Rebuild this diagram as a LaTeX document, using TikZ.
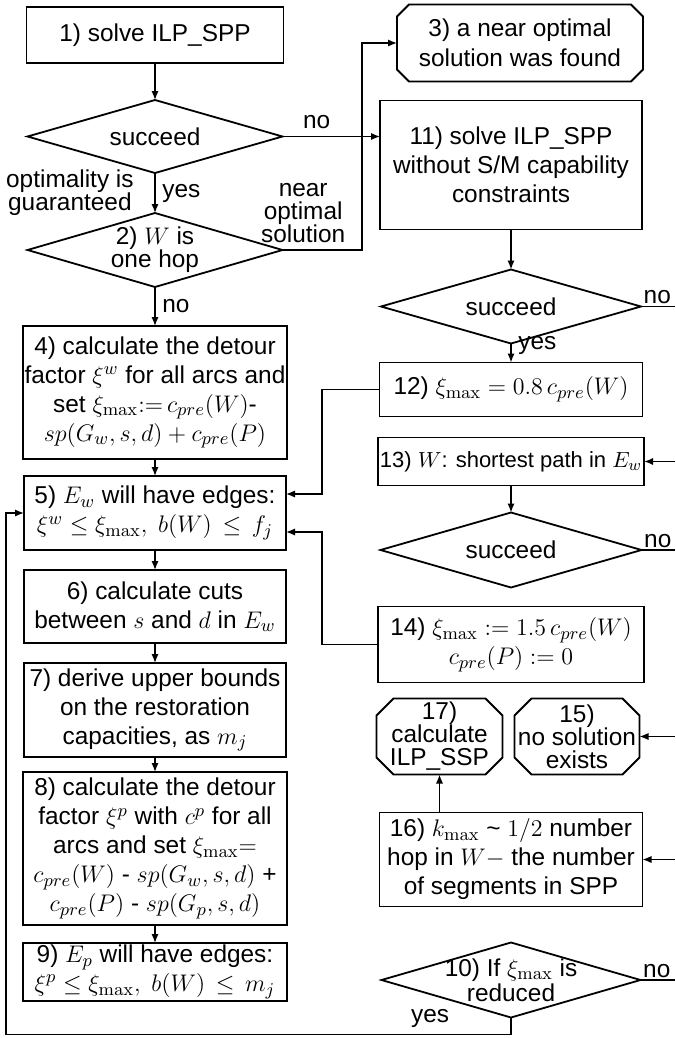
\documentclass[tikz,border=0pt]{standalone}
\usepackage[no-math]{fontspec}
\setmainfont{Liberation Sans}
\usetikzlibrary{arrows.meta,positioning,shapes.geometric}
\tikzset{box/.style={draw,line width=0.9pt,outer sep=0pt,align=center,inner sep=1pt,font=\fontsize{12.2}{14.5}\selectfont,minimum width=131pt}, term/.style={rectangle,outer sep=0pt,inner sep=0pt,align=center,font=\fontsize{12.2}{11.5}\selectfont}, decision/.style={diamond,draw,line width=0.9pt,outer sep=0pt,inner sep=0pt,minimum width=128pt,minimum height=37pt}, txt/.style={font=\fontsize{12.2}{11.5}\selectfont,align=center}, arr/.style={-{Latex[length=4.5pt,width=3.6pt]},line width=0.7pt}, ln/.style={line width=0.7pt}}
\begin{document}
\begin{tikzpicture}
\useasboundingbox (0,0) rectangle (337.5pt,-519pt);
\coordinate (rim) at (337.5pt,0);
% left column
\node[box,minimum width=128.5pt,minimum height=28pt] (solve) at (77.5pt,-17.5pt) {1) solve ILP\_SPP};
\node[decision,minimum width=127.5pt,minimum height=36.5pt,below=18.5pt of solve,label={[txt]center:succeed}] (ok1) {};
\node[decision,minimum width=127.5pt,below=20pt of ok1,label={[txt]center:2) $W$ is\\one hop}] (hop) {};
\node[box,minimum height=66.5pt,below=19.5pt of hop] (detour) {4) calculate the detour\\factor $\xi^w$ for all arcs and\\set $\xi_{\max}{:=}\,c_{pre}(W)$-\\$sp(G_w,s,d)+c_{pre}(P)$};
\node[box,minimum height=37pt,below=8.5pt of detour] (edgesw) {5) $E_w$ will have edges:\\$\xi^w\le\xi_{\max},\ b(W)\,\le\, f_j$};
\node[box,minimum height=36.5pt,below=10pt of edgesw] (cuts) {6) calculate cuts\\between $s$ and $d$ in $E_w$};
\node[box,minimum height=47pt,below=10pt of cuts] (bounds) {7) derive upper bounds\\on the restoration\\capacities, as $m_j$};
\node[box,minimum width=132pt,minimum height=76.5pt,below=7.5pt of bounds] (detourp) {8) calculate the detour\\factor $\xi^p$ with $c^p$ for all\\arcs and set $\xi_{\max}{=}$\\$c_{pre}(W)$ - $sp(G_w,s,d)$ +\\$c_{pre}(P)$ - $sp(G_p,s,d)$};
\node[box,minimum width=132pt,minimum height=27pt,below=9pt of detourp] (edgesp) {9) $E_p$ will have edges:\\$\xi^p\le\xi_{\max},\ b(W)\,\le\, m_j$};
% right column
\node[term,minimum width=123pt,minimum height=38.5pt,font=\fontsize{12.2}{15}\selectfont] (near) at (260pt,-21.5pt) {3) a near optimal\\solution was found};
\node[box,minimum height=64.5pt,below=9.5pt of near,xshift=-4.5pt] (relax) {11) solve ILP\_SPP\\without S/M capability\\constraints};
\node[decision,minimum width=130pt,below=20pt of relax,label={[txt]center:succeed}] (ok2) {};
\node[box,minimum width=131.5pt,minimum height=27pt,below=9.5pt of ok2] (xiset) {12) $\xi_{\max}=0.8\,c_{pre}(W)$};
\node[box,minimum height=24pt,below=10.5pt of xiset,font=\fontsize{11}{13}\selectfont] (path) {13) $W$: shortest path in $E_w$};
\node[decision,minimum width=130.5pt,minimum height=37.5pt,below=13.5pt of path,label={[txt]center:succeed}] (ok3) {};
\node[box,minimum width=133pt,minimum height=38pt,below=9.5pt of ok3] (xireset) {14) $\xi_{\max}:=1.5\,c_{pre}(W)$\\$c_{pre}(P):=0$};
\node[term,minimum width=62.5pt,minimum height=38pt,below=8pt of xireset,xshift=33pt] (nosol) {15)\\no solution\\exists};
\node[term,minimum width=63pt,minimum height=38pt,left=6pt of nosol] (calc) {17)\\calculate\\ILP\_SSP};
\node[box,minimum width=131.5pt,minimum height=47pt,below=65pt of xireset] (kmax) {16) $k_{\max}$ \textasciitilde{} $1/2$ number\\hop in $W-$ the number\\of segments in SPP};
\node[decision,minimum width=129.5pt,minimum height=37.5pt,below=18pt of kmax,label={[txt,font=\fontsize{12.2}{12.5}\selectfont]center:10) If $\xi_{\max}$ is\\reduced}] (reduced) {};
% chamfered outlines of the end nodes
\foreach \n/\c in {near/6pt,calc/8.5pt,nosol/8.5pt}
  \draw[line width=0.9pt] ([xshift=\c]\n.north west)--([xshift=-\c]\n.north east)--([yshift=-\c]\n.north east)--([yshift=\c]\n.south east)--([xshift=-\c]\n.south east)--([xshift=\c]\n.south west)--([yshift=\c]\n.south west)--([yshift=-\c]\n.north west)--cycle;
% connectors
\draw[arr] (solve)--(ok1);
\draw[arr] (ok1)--node[right,txt]{yes}node[left=7pt,txt]{optimality is\\guaranteed}(hop);
\draw[arr] (ok1.east)--node[above,pos=0.35,txt]{no}(ok1.east-|relax.west);
\draw[arr] (hop.east)-|node[above,pos=0.13,txt]{near\\optimal\\solution}([xshift=-17.5pt]near.west)--(near.west);
\draw[arr] (hop)--node[right,txt]{no}(detour);
\draw[arr] (detour)--(edgesw);\draw[arr] (edgesw)--(cuts);\draw[arr] (cuts)--(bounds);
\draw[arr] (bounds)--(detourp);\draw[arr] (detourp)--(edgesp);
\draw[arr] (relax)--(ok2);
\draw[ln] (ok2.east)--node[above right,pos=0,txt,inner sep=1pt]{no}(ok2.east-|rim);
\draw[arr] (ok2)--node[right,pos=0.1,txt]{yes}(xiset);
\draw[arr] (xiset.west)-|([xshift=18pt,yshift=9.5pt]edgesw.east)--([yshift=9.5pt]edgesw.east);
\draw[arr] (path.east-|rim)--(path.east);
\draw[arr] (path)--(ok3);
\draw[ln] (ok3.east)--node[above right,pos=0,txt,inner sep=1pt]{no}(ok3.east-|rim);
\draw[arr] (xireset.west)-|([xshift=18pt,yshift=-9.5pt]edgesw.east)--([yshift=-9.5pt]edgesw.east);
\draw[arr] (nosol.east-|rim)--(nosol.east);
\draw[arr] (kmax.east-|rim)--(kmax.east);
\draw[arr] (kmax.north-|calc.south)--(calc.south);
\draw[ln] (reduced.east)--node[above right,pos=0,txt,inner sep=1pt]{no}(reduced.east-|rim);
\draw[arr] (reduced.south)--++(0,-8.5pt)-|node[above,pos=0.08,txt]{yes}([xshift=-9pt]edgesw.west)--(edgesw.west);
\end{tikzpicture}
\end{document}
